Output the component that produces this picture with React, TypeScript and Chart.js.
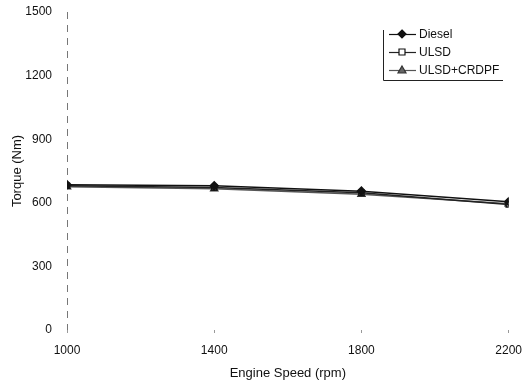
import React, { useEffect, useRef } from "react";
import { Chart, registerables } from "chart.js";

Chart.register(...registerables);

const speeds = [1000, 1400, 1800, 2200];
const diesel = [685, 680, 655, 605];
const ulsd = [680, 672, 647, 592];
const ulsdCrdpf = [676, 666, 640, 596];
const yTicks = [0, 300, 600, 900, 1200, 1500];
const seriesNames = ["Diesel", "ULSD", "ULSD+CRDPF"];

const FONT = "'Liberation Sans', Arial, sans-serif";

const axisPlugin = {
  id: "dashedAxis",
  beforeDatasetsDraw(chart: any) {
    const { ctx, chartArea } = chart;
    ctx.save();
    ctx.strokeStyle = "#777";
    ctx.lineWidth = 1;
    ctx.setLineDash([7, 6]);
    ctx.beginPath();
    const x = Math.round(chartArea.left) + 0.5;
    ctx.moveTo(x, chartArea.top);
    ctx.lineTo(x, chartArea.bottom);
    ctx.stroke();
    ctx.restore();
  },
};

const legendPlugin = {
  id: "customLegend",
  afterDraw(chart: any) {
    const ctx = chart.ctx;
    ctx.save();
    ctx.strokeStyle = "#222";
    ctx.lineWidth = 1;
    ctx.beginPath();
    ctx.moveTo(383.5, 30);
    ctx.lineTo(383.5, 80.5);
    ctx.lineTo(503, 80.5);
    ctx.stroke();
    const ys = [34, 52, 70];
    chart.data.datasets.forEach((ds: any, i: number) => {
      const y = ys[i];
      ctx.strokeStyle = ds.borderColor;
      ctx.lineWidth = 1.2;
      ctx.beginPath();
      ctx.moveTo(389, y + 0.5);
      ctx.lineTo(416, y + 0.5);
      ctx.stroke();
      const cx = 402;
      ctx.fillStyle = ds.pointBackgroundColor;
      ctx.strokeStyle = ds.pointBorderColor;
      ctx.beginPath();
      if (ds.pointStyle === "rectRot") {
        ctx.moveTo(cx, y - 4);
        ctx.lineTo(cx + 4, y);
        ctx.lineTo(cx, y + 4);
        ctx.lineTo(cx - 4, y);
        ctx.closePath();
      } else if (ds.pointStyle === "rect") {
        ctx.rect(cx - 3, y - 3, 6, 6);
      } else {
        ctx.moveTo(cx, y - 4);
        ctx.lineTo(cx + 4, y + 3);
        ctx.lineTo(cx - 4, y + 3);
        ctx.closePath();
      }
      ctx.fill();
      ctx.stroke();
      ctx.fillStyle = "#111";
      ctx.font = `12px ${FONT}`;
      ctx.textBaseline = "middle";
      ctx.textAlign = "left";
      ctx.fillText(ds.label, 419, y + 1);
    });
    ctx.restore();
  },
};

export default function App() {
  const ref = useRef<HTMLCanvasElement>(null);
  useEffect(() => {
    document.body.style.margin = "0";
    const mk = (vals: number[]) => vals.map((v, i) => ({ x: speeds[i], y: v }));
    const chart = new Chart(ref.current!, {
      type: "line",
      data: {
        datasets: [
          {
            label: seriesNames[0],
            data: mk(diesel),
            borderColor: "#111",
            borderWidth: 1.5,
            pointStyle: "rectRot",
            pointRadius: 4,
            pointBackgroundColor: "#111",
            pointBorderColor: "#111",
          },
          {
            label: seriesNames[1],
            data: mk(ulsd),
            borderColor: "#222",
            borderWidth: 1.5,
            pointStyle: "rect",
            pointRadius: 3.5,
            pointBackgroundColor: "#fff",
            pointBorderColor: "#111",
          },
          {
            label: seriesNames[2],
            data: mk(ulsdCrdpf),
            borderColor: "#555",
            borderWidth: 1.5,
            pointStyle: "triangle",
            pointRadius: 4,
            pointBackgroundColor: "#666",
            pointBorderColor: "#333",
          },
        ] as any,
      },
      options: {
        responsive: false,
        animation: false,
        layout: { padding: { top: 12, right: 16, left: 0, bottom: 0 } },
        plugins: { legend: { display: false }, tooltip: { enabled: false } },
        scales: {
          x: {
            type: "linear",
            min: 1000,
            max: 2200,
            afterBuildTicks: (s: any) => {
              s.ticks = speeds.map((v) => ({ value: v }));
            },
            afterFit: (s: any) => {
              s.height = 56;
            },
            grid: {
              display: true,
              drawOnChartArea: false,
              drawTicks: true,
              tickLength: 3,
              color: "#999",
            },
            border: { display: false },
            ticks: {
              color: "#111",
              font: { family: FONT, size: 12 },
              padding: 10,
              maxRotation: 0,
              callback: (v: any) => String(v),
            },
            title: {
              display: true,
              text: "Engine Speed (rpm)",
              color: "#111",
              font: { family: FONT, size: 13 },
              padding: { top: 0, bottom: 5 },
            },
          },
          y: {
            min: 0,
            max: 1500,
            afterBuildTicks: (s: any) => {
              s.ticks = yTicks.map((v) => ({ value: v }));
            },
            afterFit: (s: any) => {
              s.width = 67;
              s.paddingTop = 0;
              s.paddingBottom = 0;
            },
            grid: { display: false, drawTicks: false },
            border: { display: false },
            ticks: {
              color: "#111",
              font: { family: FONT, size: 12 },
              padding: 15,
              callback: (v: any) => String(v),
            },
            title: {
              display: true,
              text: "Torque (Nm)",
              color: "#111",
              font: { family: FONT, size: 13 },
              padding: { top: 10, bottom: 0 },
            },
          },
        },
      } as any,
      plugins: [axisPlugin, legendPlugin],
    });
    return () => chart.destroy();
  }, []);
  return (
    <div style={{ position: "absolute", left: 0, top: 0, width: 532, height: 386, background: "#fff" }}>
      <canvas ref={ref} width={532} height={386} />
    </div>
  );
}
